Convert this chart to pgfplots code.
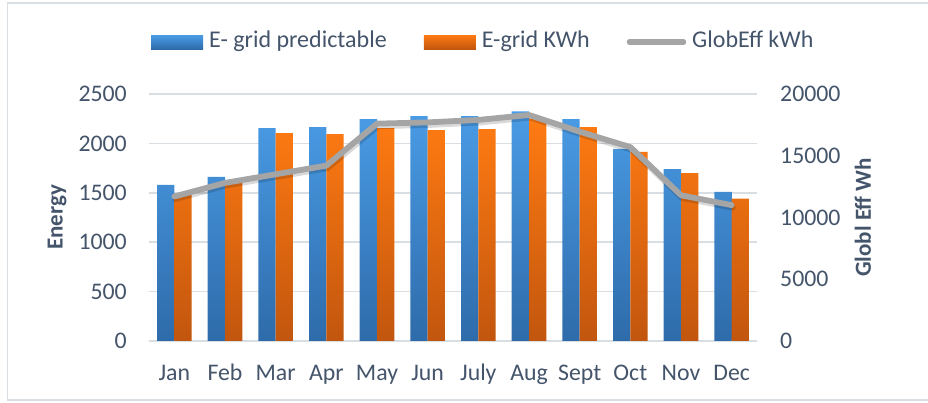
\documentclass[border=0pt]{standalone}
\usepackage{pgfplots}
\pgfplotsset{compat=1.18}
\usepackage{fontspec}
\setmainfont{Carlito}
\definecolor{txt}{HTML}{44546A}
\definecolor{gridc}{HTML}{D9DEE3}
\definecolor{btop}{HTML}{4A9CE6}
\definecolor{bbot}{HTML}{2E6BAA}
\definecolor{otop}{HTML}{FF7B12}
\definecolor{obot}{HTML}{C2560E}
\definecolor{linec}{HTML}{A5A5A5}
\begin{document}
\begin{tikzpicture}[x=1pt,y=1pt]
\useasboundingbox (0,0) rectangle (928,403);
\draw[gridc, line width=1.5pt] (935,400) -- (7.5,400) -- (7.5,3) -- (935,3);
\begin{axis}[
  at={(149pt,62pt)}, anchor=south west,
  scale only axis, width=608pt, height=247pt,
  xmin=-0.5, xmax=11.5, ymin=0, ymax=2500,
  ybar=0pt, bar width=17.3pt,
  axis line style={draw=none},
  major tick length=0pt,
  xtick={0,...,11},
  xticklabels={Jan,Feb,Mar,Apr,May,Jun,July,Aug,Sept,Oct,Nov,Dec},
  ytick={0,500,1000,1500,2000,2500},
  yticklabels={0,500,1000,1500,2000,2500},
  ymajorgrids, grid style={gridc, line width=1.5pt},
  /pgf/number format/assume math mode=true,
  tick label style={font=\fontsize{23.8}{24}\selectfont, text=txt},
  yticklabel style={anchor=east, inner sep=0pt, xshift=-22pt},
  xticklabel style={anchor=north, inner sep=0pt, text height=15pt, yshift=-24pt},
  ylabel={Energy},
  ylabel style={at={(axis description cs:-0.1513,0.5)}, anchor=center, font=\fontsize{23}{23}\selectfont\bfseries, text=txt},
  legend columns=3,
  legend style={at={(axis description cs:0.0033,1.2105)}, anchor=west, draw=none, fill=none,
    font=\fontsize{24}{24}\selectfont, text=txt, inner sep=0pt,
    nodes={inner sep=0pt, text height=15pt, text depth=4pt},
    /tikz/every even column/.append style={column sep=37pt},
    /tikz/every odd column/.append style={column sep=6pt}},
  legend image code/.code={\path[#1,draw=none] (0pt,-7pt) rectangle (52pt,7pt);},
]
\addplot[draw=none, top color=btop, bottom color=bbot] coordinates {
(0,1580) (1,1660) (2,2155) (3,2165) (4,2245) (5,2275) (6,2275) (7,2325) (8,2245) (9,1945) (10,1740) (11,1510)};
\addlegendentry{E- grid predictable}
\addplot[draw=none, top color=otop, bottom color=obot] coordinates {
(0,1490) (1,1600) (2,2105) (3,2095) (4,2155) (5,2135) (6,2145) (7,2250) (8,2165) (9,1915) (10,1700) (11,1440)};
\addlegendentry{E-grid KWh}
\addlegendimage{legend image code/.code={\draw[linec, line width=5.5pt, line cap=round] (2pt,0pt) -- (56pt,0pt);}}
\addlegendentry{GlobEff kWh}
\end{axis}
\begin{axis}[
  at={(149pt,62pt)}, anchor=south west,
  scale only axis, width=608pt, height=247pt,
  xmin=-0.5, xmax=11.5, ymin=0, ymax=20000,
  axis x line=none,
  axis y line*=right,
  axis line style={draw=none},
  major tick length=0pt,
  scaled y ticks=false,
  ytick={0,5000,10000,15000,20000},
  yticklabels={0,5000,10000,15000,20000},
  /pgf/number format/assume math mode=true,
  yticklabel style={font=\fontsize{23.8}{24}\selectfont, text=txt, anchor=west, inner sep=0pt, xshift=23pt},
  ylabel={Globl Eff Wh},
  ylabel style={at={(axis description cs:1.1743,0.5)}, anchor=center, rotate=0, font=\fontsize{23}{23}\selectfont\bfseries, text=txt},
]
\addplot[black, opacity=0.15, line width=6pt, line join=round, line cap=round, transform canvas={xshift=1pt,yshift=-2.5pt}] coordinates {
(0,11700) (1,12800) (2,13500) (3,14200) (4,17600) (5,17700) (6,17900) (7,18300) (8,16950) (9,15700) (10,11800) (11,11000)};
\addplot[linec, line width=5.8pt, line join=round, line cap=round] coordinates {
(0,11700) (1,12800) (2,13500) (3,14200) (4,17600) (5,17700) (6,17900) (7,18300) (8,16950) (9,15700) (10,11800) (11,11000)};
\end{axis}
\end{tikzpicture}
\end{document}
